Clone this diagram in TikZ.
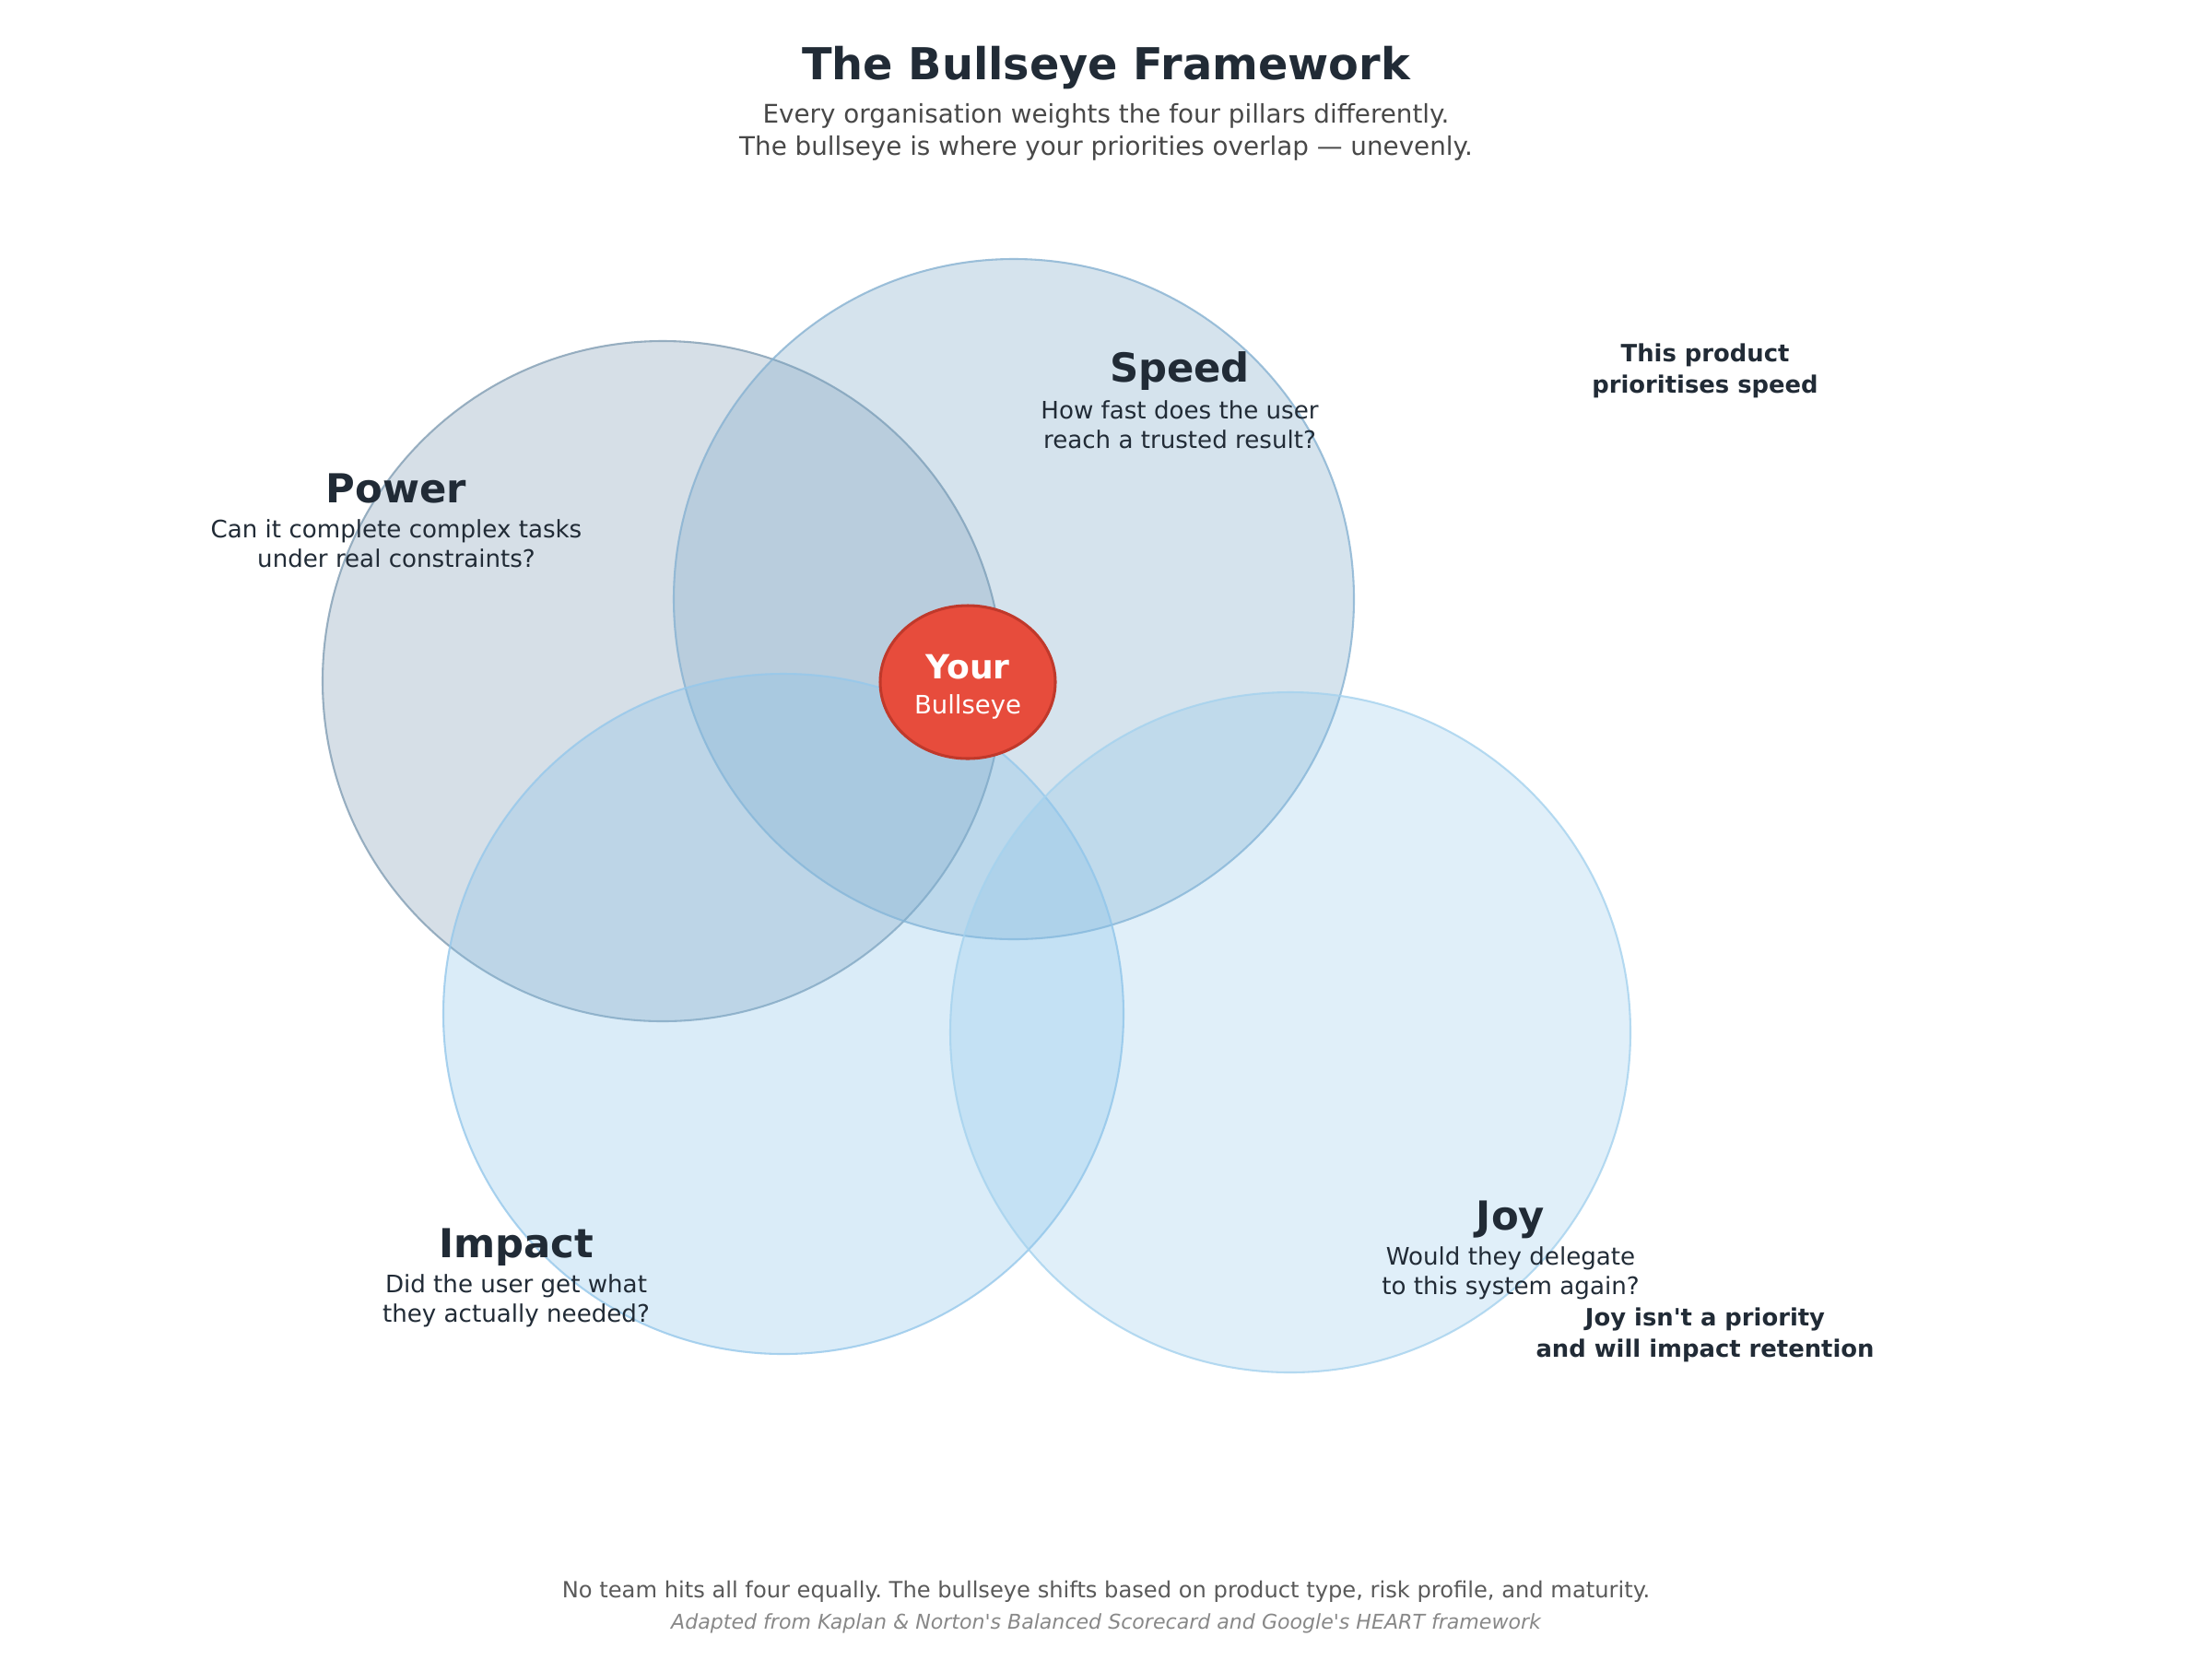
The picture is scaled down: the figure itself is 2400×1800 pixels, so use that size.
\documentclass[tikz,border=0pt]{standalone}
\usepackage{fontspec}
\setmainfont{DejaVu Sans}[Ligatures=TeXOff]
\definecolor{tdark}{RGB}{33,43,54}
\definecolor{tsub}{RGB}{72,72,72}
\definecolor{tfoot}{RGB}{90,90,90}
\definecolor{tfoot2}{RGB}{136,136,136}
\definecolor{cpower}{RGB}{122,152,178}
\definecolor{cpowerl}{RGB}{130,158,180}
\definecolor{cspeed}{RGB}{118,165,198}
\definecolor{cspeedl}{RGB}{135,178,210}
\definecolor{cimpact}{RGB}{133,193,233}
\definecolor{cimpactl}{RGB}{150,200,235}
\definecolor{cjoy}{RGB}{133,193,233}
\definecolor{cjoyl}{RGB}{165,210,238}
\definecolor{bfill}{RGB}{231,76,60}
\definecolor{bdraw}{RGB}{192,57,43}
\newcommand{\fs}[2]{\fontsize{#1bp}{#2bp}\selectfont}
\frenchspacing
\tikzset{
  txt/.style={inner sep=0pt, align=center, text=tdark},
  head/.style={txt, font=\fs{15.6}{19}\bfseries},
  desc/.style={txt, font=\fs{9.4}{11.6}},
  note/.style={txt, font=\fs{9.3}{12.2}\bfseries},
  pillar/.style={line width=0.75bp, draw opacity=0.8},
}
\begin{document}
\begin{tikzpicture}[x=0.36bp,y=-0.36bp]
\useasboundingbox[fill=white] (0,0) rectangle (2400,1800);
% circles
\path[pillar, fill=cpower, fill opacity=0.3, draw=cpowerl] (719,739) circle[radius=369];
\path[pillar, fill=cspeed, fill opacity=0.3, draw=cspeedl] (1100,650) circle[radius=369];
\path[pillar, fill=cimpact, fill opacity=0.3, draw=cimpactl] (850,1100) circle[radius=369];
\path[pillar, fill=cjoy, fill opacity=0.25, draw=cjoyl] (1400,1120) circle[radius=369];
% bullseye
\path[fill=bfill, draw=bdraw, line width=1.1bp] (1050,740) ellipse[x radius=95, y radius=83];
\node[inner sep=0pt, text=white, font=\fs{13}{15}\bfseries] (your) at (1050,724) {Your};
\node[inner sep=0pt, text=white, font=\fs{9.9}{12}] (bull) at (1050,767) {Bullseye};
% title
\node[txt, font=\fs{17.2}{20}\bfseries] (title) at (1200,73) {The Bullseye Framework};
\node[inner sep=0pt, align=center, text=tsub, font=\fs{10}{12.6}] (sub) at (1200,143) {Every organisation weights the four pillars differently.\\The bullseye is where your priorities overlap — unevenly.};
% pillars
\node[head] (speed) at (1280,403) {Speed};
\node[desc] (speedd) at (1280,461) {How fast does the user\\reach a trusted result?};
\node[head] (power) at (430,530) {Power};
\node[desc] (powerd) at (430,590) {Can it complete complex tasks\\under real constraints?};
\node[head] (impact) at (560,1353) {Impact};
\node[desc] (impactd) at (560,1411) {Did the user get what\\they actually needed?};
\node[head] (joy) at (1639,1323) {Joy};
\node[desc] (joyd) at (1639,1381) {Would they delegate\\to this system again?};
% notes
\node[note] (note1) at (1850,402) {This product\\prioritises speed};
\node[note] (note2) at (1850,1448) {Joy isn't a priority\\and will impact retention};
% footer
\node[inner sep=0pt, text=tfoot, font=\fs{8.7}{10}] (foot1) at (1200,1727) {No team hits all four equally. The bullseye shifts based on product type, risk profile, and maturity.};
\node[inner sep=0pt, text=tfoot2, font=\fs{7.95}{10}\itshape] (foot2) at (1200,1761) {Adapted from Kaplan \& Norton's Balanced Scorecard and Google's HEART framework};
\end{tikzpicture}
\end{document}
